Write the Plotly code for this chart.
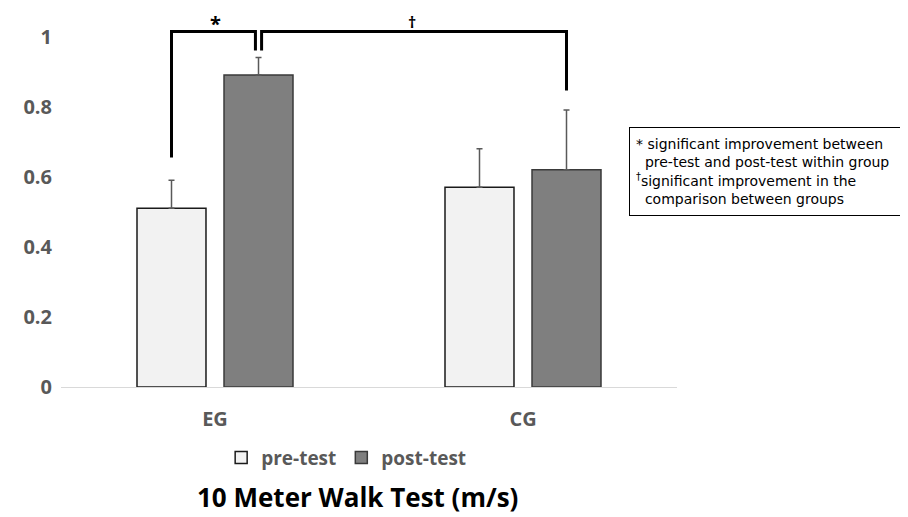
import plotly.graph_objects as go

groups = ["EG", "CG"]
pre_test = [0.51, 0.57]
post_test = [0.89, 0.62]
pre_err = [0.08, 0.11]
post_err = [0.05, 0.17]
y_ticks = [0, 0.2, 0.4, 0.6, 0.8, 1]
y_tick_labels = ["0", "0.2", "0.4", "0.6", "0.8", "1"]

FONT = "Open Sans, Noto Sans, sans-serif"
NOTE_FONT = "DejaVu Sans, Open Sans, sans-serif"
GRAY = "#595959"

xs = list(range(len(groups)))

fig = go.Figure()
fig.add_trace(go.Bar(
    name="pre-test", x=xs, y=pre_test,
    marker=dict(color="#f2f2f2", line=dict(color="#1a1a1a", width=1.5)),
    error_y=dict(type="data", symmetric=False, array=pre_err, arrayminus=[0] * len(pre_err),
                 color=GRAY, thickness=1.5, width=3),
))
fig.add_trace(go.Bar(
    name="post-test", x=xs, y=post_test,
    marker=dict(color="#7f7f7f", line=dict(color="#3a3a3a", width=1.5)),
    error_y=dict(type="data", symmetric=False, array=post_err, arrayminus=[0] * len(post_err),
                 color=GRAY, thickness=1.5, width=3),
))

bargap = 0.435
bargroupgap = 0.207
slot = (1 - bargap) / 2
off = slot / 2  # offset of each bar center from the category center

top = 1.014
eg_pre_x = xs[0] - off
eg_post_x = xs[0] + off
cg_post_x = xs[1] + off
line = dict(color="black", width=3)

# bracket for within-group (*)
fig.add_shape(type="path",
              path=f"M {eg_pre_x},{pre_test[0] + pre_err[0] + 0.065} L {eg_pre_x},{top} "
                   f"L {eg_post_x - 0.01},{top} L {eg_post_x - 0.01},{post_test[0] + post_err[0] + 0.02}",
              xref="x", yref="y", line=line)
# bracket for between-group (†)
fig.add_shape(type="path",
              path=f"M {eg_post_x + 0.01},{post_test[0] + post_err[0] + 0.02} L {eg_post_x + 0.01},{top} "
                   f"L {cg_post_x},{top} L {cg_post_x},{post_test[1] + post_err[1] + 0.056}",
              xref="x", yref="y", line=line)

fig.add_annotation(x=(eg_pre_x + eg_post_x) / 2, y=top, xref="x", yref="y", yanchor="bottom",
                   yshift=-7, text="<b>*</b>", showarrow=False,
                   font=dict(family=FONT, size=20, color="black"))
fig.add_annotation(x=0.64, y=top, xref="x", yref="y", yanchor="bottom", yshift=-3,
                   text="<b>†</b>", showarrow=False, font=dict(family=FONT, size=16, color="black"))

nb = "\u00a0"
note = ("*" + nb + "significant improvement between<br>"
        + nb * 2 + "pre-test and post-test within group<br>"
        + "<sup>†</sup>significant improvement in the<br>"
        + nb * 2 + "comparison between groups")
fig.add_annotation(x=0.922, y=0.719, xref="paper", yref="paper", xanchor="left", yanchor="top",
                   text=note, showarrow=False, align="left", width=264, height=75,
                   font=dict(family=NOTE_FONT, size=14, color="black"),
                   bordercolor="black", borderwidth=1, borderpad=6, bgcolor="white")

fig.add_annotation(x=0.482, y=-0.304, xref="paper", yref="paper", xanchor="center", yanchor="middle",
                   text="<b>10 Meter Walk Test (m/s)</b>", showarrow=False,
                   font=dict(family=FONT, size=26, color="black"))

fig.update_layout(
    width=900, height=509,
    margin=dict(l=53, r=231, t=17.5, b=130),
    plot_bgcolor="white", paper_bgcolor="white",
    barmode="group", bargap=bargap, bargroupgap=bargroupgap,
    showlegend=True,
    legend=dict(orientation="h", x=0.26, y=-0.196, xanchor="left", yanchor="middle",
                font=dict(family=FONT, size=19, color=GRAY, weight="bold"),
                traceorder="normal"),
    font=dict(family=FONT),
)
fig.update_xaxes(range=[-0.5, 1.5], tickvals=xs, ticktext=groups,
                 showline=True, linecolor="#d9d9d9", linewidth=1, showgrid=False, zeroline=False,
                 ticks="", ticklabelstandoff=14,
                 tickfont=dict(family=FONT, size=20, color=GRAY, weight="bold"))
fig.update_yaxes(range=[0, 1.03], tickvals=y_ticks, ticktext=y_tick_labels,
                 showgrid=False, zeroline=False, showline=False, ticks="", ticklabelstandoff=8,
                 tickfont=dict(family=FONT, size=20, color=GRAY, weight="bold"))

fig.write_html("out.html")
